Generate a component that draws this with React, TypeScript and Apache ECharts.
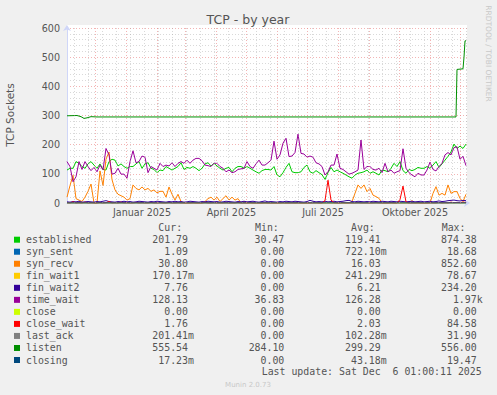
import React, { useEffect, useRef } from 'react';
import * as echarts from 'echarts';

// x unit: one day = one pixel (Munin yearly graph, 400 days). Day 0 = left edge of plot.
const STEP = 3;
const DAY_OFFSET = 1.5; // left edge is ~1.5 days after 1 Nov 2024

const NAMES = ['established', 'syn_sent', 'syn_recv', 'fin_wait1', 'fin_wait2', 'time_wait', 'close', 'close_wait', 'last_ack', 'listen', 'closing'];
const COLORS = ['#00CC00', '#0066B3', '#FF8000', '#FFCC00', '#330099', '#990099', '#CCFF00', '#FF0000', '#808080', '#008F00', '#00487D'];
const CUR = ['201.79', '1.09', '30.80', '170.17m', '7.76', '128.13', '0.00', '1.76', '201.41m', '555.54', '17.23m'];
const MIN = ['30.47', '0.00', '0.00', '0.00', '0.00', '36.83', '0.00', '0.00', '0.00', '284.10', '0.00'];
const AVG = ['119.41', '722.10m', '16.03', '241.29m', '6.21', '126.28', '0.00', '2.03', '102.28m', '299.29', '43.18m'];
const MAX = ['874.38', '18.68', '852.60', '78.67', '234.20', '1.97k', '0.00', '84.58', '31.90', '556.00', '19.47'];

const Y_TICKS = [0, 100, 200, 300, 400, 500, 600];
const MONTH_LABELS = ['Januar 2025', 'April 2025', 'Juli 2025', 'Oktober 2025'];
const MONTH_LABEL_DAYS = [76.5, 166, 257.5, 349.5]; // days since 1 Nov 2024 (mid-month)
const MONTH_START_DAYS = [30, 61, 92, 120, 151, 181, 212, 242, 273, 304, 334, 365, 395];
const FIRST_SUNDAY = 9; // 10 Nov 2024
const SUNDAY_STEP = 14;

// sampled every STEP days from day 0
const ESTABLISHED = [
  113, 119, 119, 142, 136, 125, 119, 134, 142, 130,
  119, 134, 115, 113, 142, 150, 147, 127, 134, 125,
  119, 125, 125, 134, 142, 119, 134, 138, 119, 115,
  104, 113, 111, 125, 119, 113, 119, 125, 138, 115,
  122, 119, 125, 119, 111, 119, 134, 138, 127, 136,
  127, 119, 113, 119, 122, 107, 119, 125, 125, 119,
  125, 119, 113, 107, 102, 111, 115, 115, 113, 125,
  96, 90, 104, 122, 136, 107, 104, 104, 107, 122,
  130, 107, 102, 111, 104, 97, 81, 104, 122, 107,
  113, 107, 102, 96, 90, 85, 96, 102, 104, 107,
  113, 102, 107, 102, 96, 113, 111, 107, 119, 136,
  125, 142, 111, 102, 115, 111, 115, 122, 119, 119,
  125, 119, 130, 142, 122, 134, 147, 160, 175, 202,
  187, 195, 187, 202,
];
const TIME_WAIT = [
  142, 125, 73, 90, 142, 115, 142, 125, 111, 122,
  107, 130, 113, 187, 165, 99, 102, 119, 99, 99,
  85, 142, 179, 138, 142, 161, 157, 104, 125, 119,
  113, 136, 125, 130, 127, 138, 125, 136, 142, 136,
  147, 136, 147, 153, 153, 145, 130, 128, 125, 136,
  136, 125, 119, 107, 113, 104, 107, 115, 117, 119,
  142, 125, 119, 134, 147, 130, 130, 138, 147, 212,
  150, 165, 205, 222, 159, 161, 173, 236, 170, 168,
  157, 161, 157, 138, 134, 125, 96, 107, 130, 130,
  168, 119, 115, 107, 99, 102, 107, 113, 216, 115,
  125, 125, 115, 113, 119, 104, 136, 107, 113, 102,
  107, 111, 186, 119, 104, 96, 90, 102, 96, 96,
  113, 140, 115, 110, 125, 136, 165, 173, 165, 190,
  193, 150, 160, 128,
];
const SYN_RECV = [
  20, 60, 95, 15, 10, 5, 20, 40, 65, 0,
  0, 110, 60, 150, 175, 80, 45, 30, 25, 20,
  10, 15, 62, 50, 45, 55, 45, 50, 40, 45,
  35, 40, 40, 20, 55, 30, 10, 30, 5, 0,
  0, 0, 0, 0, 0, 0, 5, 15, 20, 10,
  20, 5, 15, 25, 10, 20, 10, 15, 0, 5,
  0, 0, 0, 0, 0, 0, 0, 0, 0, 0,
  0, 0, 0, 0, 0, 3, 0, 0, 0, 0,
  0, 0, 3, 0, 0, 0, 0, 0, 0, 0,
  0, 0, 0, 0, 0, 5, 33, 62, 50, 62,
  39, 50, 27, 22, 16, 0, 0, 0, 0, 0,
  0, 0, 0, 0, 0, 8, 0, 0, 0, 0,
  0, 0, 33, 56, 27, 33, 27, 62, 33, 39,
  39, 16, 5, 30,
];
const FIN_WAIT2 = [
  4, 3, 5, 4, 6, 3, 4, 5, 4, 3,
  5, 4, 6, 8, 5, 4, 3, 5, 4, 6,
  4, 5, 3, 4, 6, 5, 4, 3, 5, 4,
  6, 5, 4, 3, 5, 4, 6, 4, 5, 3,
  4, 6, 5, 4, 3, 5, 4, 6, 5, 4,
  5, 3, 4, 6, 5, 4, 3, 5, 4, 6,
  4, 5, 6, 4, 3, 5, 7, 4, 5, 4,
  3, 5, 4, 6, 5, 4, 6, 5, 4, 3,
  5, 9, 6, 4, 5, 4, 6, 4, 5, 6,
  4, 5, 6, 8, 9, 5, 4, 6, 5, 4,
  5, 4, 6, 5, 4, 6, 5, 4, 6, 5,
  4, 6, 5, 4, 5, 6, 4, 5, 6, 4,
  5, 6, 4, 5, 7, 5, 6, 8, 9, 10,
  8, 7, 9, 8,
];
const CLOSE_WAIT = [
  1, 0, 4, 0, 1, 0, 3, 0, 1, 0,
  0, 2, 0, 1, 5, 0, 1, 0, 3, 0,
  1, 0, 0, 2, 0, 1, 0, 0, 2, 0,
  0, 1, 0, 0, 2, 0, 0, 1, 0, 0,
  0, 0, 1, 0, 0, 0, 2, 0, 0, 1,
  0, 0, 0, 1, 0, 0, 0, 2, 0, 0,
  0, 1, 0, 0, 0, 0, 1, 0, 0, 0,
  0, 0, 1, 0, 0, 0, 0, 1, 0, 0,
  0, 0, 0, 1, 0, 0, 8, 78, 10, 1,
  0, 0, 1, 0, 0, 0, 0, 1, 0, 0,
  0, 0, 0, 1, 0, 0, 0, 0, 1, 0,
  0, 12, 58, 4, 0, 0, 0, 1, 0, 0,
  0, 1, 0, 0, 2, 0, 1, 0, 3, 1,
  2, 1, 3, 2,
];
const LISTEN_DAYS = [0, 10, 14, 17, 20, 24, 30, 389, 390, 396, 397, 398, 399];
const LISTEN = [299, 300, 296, 290, 292, 296, 295, 295, 458, 460, 500, 556, 556];
const FLAT_DAYS = [0, 399];
const SYN_SENT = [0.7, 1.1];
const FIN_WAIT1 = [0.2, 0.2];
const CLOSE = [0, 0];
const LAST_ACK = [0.1, 0.2];
const CLOSING = [0, 0];

const gridDays = (n: number) => Array.from({ length: n }, (_, i) => i * STEP);

function lineSeries(name: string, color: string, days: number[], vals: number[]) {
  return {
    type: 'line',
    name,
    data: days.map((d, i) => [d, vals[i]]),
    showSymbol: false,
    symbol: 'none',
    silent: true,
    z: 3,
    lineStyle: { color, width: 1 },
    itemStyle: { color },
  };
}

const MONO = '"DejaVu Sans Mono", monospace';
const SANS = '"DejaVu Sans", sans-serif';
const TXT = '#555';
const MAJOR_GRID = 'rgba(235,130,130,0.6)';
const MINOR_GRID = 'rgba(160,160,160,0.4)';

function buildOption() {
  const seriesData: [number[], number[]][] = [
    [gridDays(ESTABLISHED.length), ESTABLISHED],
    [FLAT_DAYS, SYN_SENT],
    [gridDays(SYN_RECV.length), SYN_RECV],
    [FLAT_DAYS, FIN_WAIT1],
    [gridDays(FIN_WAIT2.length), FIN_WAIT2],
    [gridDays(TIME_WAIT.length), TIME_WAIT],
    [FLAT_DAYS, CLOSE],
    [gridDays(CLOSE_WAIT.length), CLOSE_WAIT],
    [FLAT_DAYS, LAST_ACK],
    [LISTEN_DAYS, LISTEN],
    [FLAT_DAYS, CLOSING],
  ];
  const series: any[] = seriesData.map(([d, v], i) => lineSeries(NAMES[i], COLORS[i], d, v));

  const minorDays: number[] = [];
  for (let d = FIRST_SUNDAY; d - DAY_OFFSET <= 400; d += SUNDAY_STEP) minorDays.push(d - DAY_OFFSET);
  const majorDays = MONTH_START_DAYS.map((d) => d - DAY_OFFSET).filter((d) => d > 0 && d < 400);

  series.unshift({
    type: 'line',
    data: [],
    silent: true,
    z: 1,
    markLine: {
      silent: true,
      symbol: ['none', 'none'],
      label: { show: false },
      lineStyle: { color: MAJOR_GRID, width: 1, type: [1, 2] },
      data: majorDays.map((d) => ({ xAxis: d })),
    },
  });
  series.unshift({
    type: 'line',
    data: [],
    silent: true,
    z: 1,
    markLine: {
      silent: true,
      symbol: ['none', 'none'],
      label: { show: false },
      lineStyle: { color: MINOR_GRID, width: 1, type: [1, 2] },
      data: minorDays.map((d) => ({ xAxis: d })),
    },
  });

  const labelPos = MONTH_LABEL_DAYS.map((d) => d - DAY_OFFSET);

  const graphic: any[] = [];
  graphic.push({ type: 'rect', z: -1, shape: { x: 67, y: 25, width: 400, height: 3 }, style: { fill: '#FFFFFF' } });
  graphic.push({ type: 'text', x: 248, y: 19, style: { text: 'TCP - by year', font: `12.5px ${SANS}`, fill: TXT, align: 'center', verticalAlign: 'middle' } });
  graphic.push({ type: 'text', x: 10, y: 115, rotation: Math.PI / 2, style: { text: 'TCP Sockets', font: `10.5px ${SANS}`, fill: TXT, align: 'center', verticalAlign: 'middle' } });
  graphic.push({ type: 'text', x: 488, y: 53.5, rotation: -Math.PI / 2, style: { text: 'RRDTOOL / TOBI OETIKER', font: `7.5px ${SANS}`, fill: '#C8C8C8', align: 'center', verticalAlign: 'middle' } });
  graphic.push({ type: 'text', x: 248, y: 384.5, style: { text: 'Munin 2.0.73', font: `7px ${SANS}`, fill: '#C8C8C8', align: 'center', verticalAlign: 'middle' } });

  const headerY = 227.7;
  const heads: [string, number][] = [['Cur:', 158.3], ['Min:', 255], ['Avg:', 351], ['Max:', 441.7]];
  heads.forEach(([t, x]) => graphic.push({ type: 'text', x, y: headerY, style: { text: t, font: `9.9px ${MONO}`, fill: TXT, align: 'left', verticalAlign: 'middle' } }));

  const colEnds = [188, 284.3, 380.7, 476.7];
  const cols = [CUR, MIN, AVG, MAX];
  NAMES.forEach((name, i) => {
    const y = 239.7 + i * 12.03;
    graphic.push({ type: 'rect', shape: { x: 14, y: y - 3, width: 6, height: 6 }, style: { fill: COLORS[i] } });
    graphic.push({ type: 'text', x: 26, y, style: { text: name, font: `9.9px ${MONO}`, fill: TXT, align: 'left', verticalAlign: 'middle' } });
    cols.forEach((col, c) => {
      const m = /^([\d.]+)([a-zA-Z]?)$/.exec(col[i]);
      const num = m ? m[1] : col[i];
      const suf = m ? m[2] : '';
      graphic.push({ type: 'text', x: colEnds[c], y, style: { text: num, font: `9.9px ${MONO}`, fill: TXT, align: 'right', verticalAlign: 'middle' } });
      if (suf) graphic.push({ type: 'text', x: colEnds[c], y, style: { text: suf, font: `9.9px ${MONO}`, fill: TXT, align: 'left', verticalAlign: 'middle' } });
    });
  });
  graphic.push({ type: 'text', x: 261.7, y: 371.7, style: { text: 'Last update: Sat Dec  6 01:00:11 2025', font: `9.9px ${MONO}`, fill: TXT, align: 'left', verticalAlign: 'middle' } });

  return {
    animation: false,
    backgroundColor: '#F0F0F0',
    grid: { left: 67, top: 28, width: 400, height: 175, show: true, backgroundColor: '#FFFFFF', borderWidth: 0 },
    xAxis: {
      type: 'value',
      min: 0,
      max: 400,
      axisLine: { show: true, lineStyle: { color: '#CFD6F8', width: 1 }, symbol: ['none', 'arrow'], symbolSize: [6, 6], symbolOffset: [0, 3] },
      axisTick: { show: false },
      splitLine: { show: false },
      axisLabel: {
        customValues: labelPos,
        margin: 4,
        color: TXT,
        fontFamily: SANS,
        fontSize: 9.6,
        formatter: (v: number) => {
          let best = 0;
          labelPos.forEach((p, i) => { if (Math.abs(p - v) < Math.abs(labelPos[best] - v)) best = i; });
          return MONTH_LABELS[best];
        },
      },
    },
    yAxis: {
      type: 'value',
      min: 0,
      max: 600,
      interval: 100,
      axisLine: { show: true, lineStyle: { color: '#CFD6F8', width: 1 }, symbol: ['none', 'arrow'], symbolSize: [6, 6], symbolOffset: [0, 3] },
      axisTick: { show: false },
      axisLabel: { color: TXT, fontFamily: SANS, fontSize: 9.6, margin: 7, formatter: (v: number) => (Y_TICKS.includes(v) ? String(v) : '') },
      splitLine: { show: true, lineStyle: { color: MAJOR_GRID, width: 1, type: [1, 2] } },
      minorTick: { show: false, splitNumber: 5 },
      minorSplitLine: { show: true, lineStyle: { color: MINOR_GRID, width: 1, type: [1, 2] } },
    },
    series,
    graphic,
  };
}

export default function App() {
  const ref = useRef<HTMLDivElement>(null);
  useEffect(() => {
    const chart = echarts.init(ref.current!, null, { renderer: 'svg' });
    chart.setOption(buildOption() as any);
    return () => chart.dispose();
  }, []);
  return (
    <div
      ref={ref}
      style={{ position: 'fixed', left: 0, top: 0, width: 497, height: 395, background: '#F0F0F0' }}
    />
  );
}
